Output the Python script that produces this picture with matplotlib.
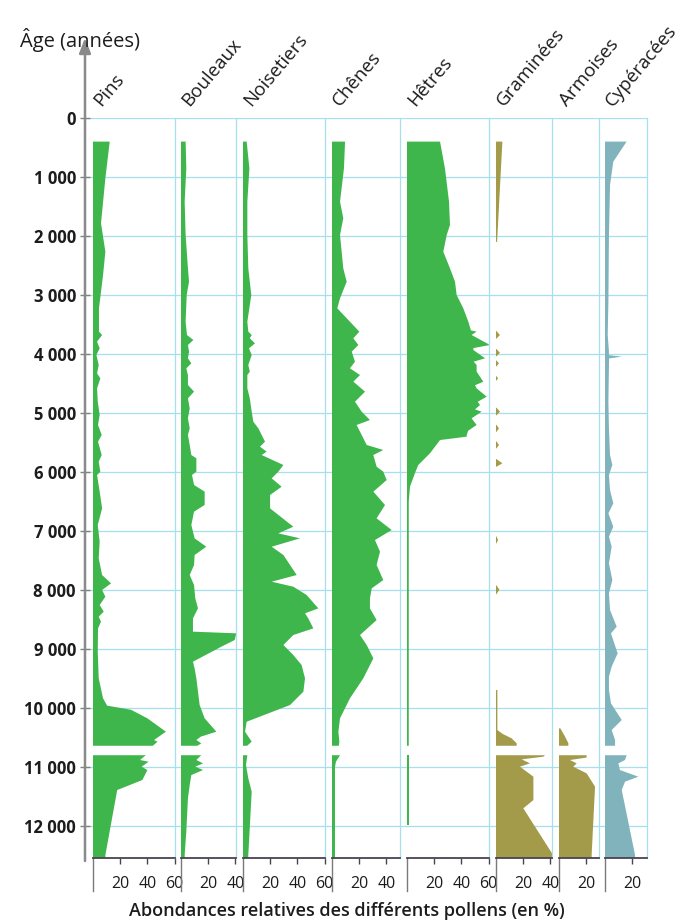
import numpy as np
import matplotlib
matplotlib.use('Agg')
import matplotlib.pyplot as plt

nan = np.nan

# ages (years) and relative abundance (%)
# nan marks the break in the core around 10 700 years
pins_age = [400, 1020, 1785, 2266, 2661, 3226, 3621, 3678, 3791, 3904, 4017, 4186,
            4328, 4412, 4582, 4808, 5034, 5203, 5373, 5486, 5712, 5825, 5994, 6051,
            6333, 6616, 6898, 7181, 7463, 7746, 7887, 8000, 8113, 8254, 8367, 8452,
            8537, 8650, 9045, 9497, 9836, 9960, 10030, 10175, 10401, 10542, 10571,
            10640, nan, 10800, 10881, 10910, 10994, 11051, 11220, 11390, 12492, 12542]
pins_pct = [12.3, 9.1, 5.9, 9.1, 7.4, 4.4, 4.4, 6.7, 3.0, 4.9, 2.5, 4.2,
            3.0, 5.4, 3.0, 3.5, 4.9, 3.7, 6.4, 3.7, 6.4, 4.2, 5.4, 3.0,
            4.9, 6.7, 3.5, 4.9, 4.2, 6.7, 13.3, 6.7, 9.1, 4.9, 7.9, 4.2,
            5.9, 3.7, 3.5, 4.2, 7.4, 10.4, 28.0, 40.0, 53.6, 44.9, 47.4,
            44.0, nan, 38.8, 34.6, 40.9, 35.8, 40.0, 36.3, 17.8, 9.1, 9.1]

bouleaux_age = [400, 853, 1418, 1983, 2548, 2774, 3000, 3452, 3678, 3763, 3847, 3960,
                4073, 4158, 4243, 4356, 4525, 4638, 4751, 4921, 5090, 5260, 5373, 5542,
                5712, 5768, 5994, 6051, 6220, 6333, 6559, 6672, 6898, 7124, 7266, 7407,
                7576, 7746, 7915, 8141, 8311, 8480, 8706, 8734, 8847, 8960, 9215, 9328,
                9497, 9723, 9949, 10175, 10401, 10486, 10542, 10599, 10640, nan,
                10800, 10881, 10938, 10994, 11051, 11136, 11305, 11531, 12096, 12492, 12542]
bouleaux_pct = [3.4, 3.9, 2.7, 3.4, 5.1, 5.9, 4.2, 3.4, 4.4, 9.1, 5.1, 5.9,
                5.1, 7.6, 3.9, 5.1, 5.1, 9.6, 5.1, 6.4, 5.1, 6.4, 5.1, 6.4,
                7.6, 11.3, 11.3, 8.1, 9.6, 17.4, 17.4, 9.6, 7.6, 10.0, 18.6, 10.0,
                9.6, 6.4, 9.6, 10.5, 12.5, 8.8, 8.8, 40.7, 39.5, 29.7, 8.8, 10.0,
                11.3, 12.5, 13.7, 17.4, 26.0, 14.5, 11.3, 14.9, 12.0, nan,
                14.9, 11.3, 16.2, 10.5, 16.2, 7.6, 6.4, 5.1, 3.9, 2.7, 2.7]

noisetiers_age = [400, 853, 1418, 1983, 2548, 3000, 3452, 3621, 3678, 3734, 3819, 3904,
                  4017, 4186, 4299, 4356, 4582, 4751, 4977, 5147, 5260, 5486, 5571, 5655,
                  5712, 5881, 5994, 6107, 6249, 6390, 6616, 6927, 7040, 7124, 7266, 7407,
                  7576, 7746, 7859, 7944, 8085, 8311, 8395, 8480, 8650, 8763, 8932, 9102,
                  9271, 9497, 9723, 9949, 10232, 10401, 10571, 10640, nan,
                  10800, 10966, 11192, 11418, 12492, 12542]
noisetiers_pct = [2.7, 4.7, 3.2, 3.2, 3.9, 6.1, 3.2, 3.9, 6.4, 5.0, 8.8, 4.4,
                  6.4, 3.9, 5.0, 3.2, 3.2, 5.0, 6.4, 7.6, 11.3, 16.2, 12.5, 17.4,
                  13.7, 29.7, 26.0, 21.1, 28.4, 19.9, 19.9, 37.0, 26.0, 41.9, 21.1, 29.7,
                  34.6, 39.5, 21.1, 37.0, 46.8, 55.4, 45.6, 48.0, 51.7, 37.0, 29.7, 37.0,
                  43.1, 45.6, 44.4, 34.6, 2.7, 1.5, 6.4, 3.0, nan,
                  3.2, 2.2, 3.9, 6.4, 3.9, 3.9]

chenes_age = [400, 853, 1418, 1700, 1983, 2548, 2774, 3056, 3226, 3452, 3621, 3734,
              3847, 3960, 4130, 4243, 4356, 4469, 4638, 4808, 4977, 5119, 5203, 5316,
              5542, 5627, 5712, 5910, 5994, 6136, 6333, 6559, 6785, 6983, 7153, 7350,
              7576, 7831, 7972, 8141, 8311, 8509, 8763, 8932, 9158, 9497, 9836, 10175,
              10401, 10571, 10640, nan, 10800, 10910, 11000, 12542]
chenes_pct = [9.6, 8.8, 5.9, 8.3, 5.9, 8.3, 10.8, 5.9, 3.9, 13.2, 20.1, 15.7,
              19.4, 14.5, 16.9, 13.2, 20.6, 15.7, 24.3, 16.9, 21.8, 27.9, 18.1, 20.6,
              25.5, 37.7, 30.4, 32.8, 37.7, 40.2, 30.4, 39.0, 32.8, 43.9, 31.6, 35.3,
              32.8, 37.7, 29.2, 27.9, 27.9, 32.8, 20.6, 25.5, 30.4, 23.0, 13.2, 5.9,
              4.7, 5.4, 5.0, nan, 5.9, 2.9, 2.2, 2.2]

hetres_age = [400, 853, 1418, 1814, 1983, 2266, 2548, 2774, 3000, 3226, 3452, 3600,
              3621, 3678, 3847, 3900, 3932, 4073, 4130, 4186, 4299, 4469, 4530, 4582,
              4723, 4810, 4864, 4940, 4977, 5090, 5203, 5300, 5373, 5401, 5458, 5683,
              5881, 6017, 6249, 6500, 10640, nan, 10800, 11990]
hetres_pct = [24.3, 27.9, 30.9, 31.6, 29.2, 26.7, 31.6, 35.3, 36.5, 41.4, 45.1, 47.0,
              51.2, 47.5, 61.0, 48.8, 48.8, 57.4, 49.0, 51.2, 51.2, 56.1, 50.0, 51.2,
              58.6, 52.0, 53.7, 50.0, 54.9, 47.5, 51.2, 45.0, 43.9, 43.9, 24.3, 16.9,
              8.3, 5.9, 2.2, 1.3, 1.3, nan, 1.3, 1.3]

graminees_age = [400, 2100, nan,
                 3610, 3678, 3740, nan, 3915, 3979, 4040, nan, 4110, 4158, 4210, nan,
                 4375, 4412, 4450, nan, 4910, 4977, 5040, nan, 5200, 5260, 5320, nan,
                 5480, 5542, 5600, nan, 5780, 5853, 5910, nan, 7090, 7152, 7210, nan,
                 7920, 7994, 8070, nan,
                 9695, 10373, 10440, 10514, 10599, 10640, nan,
                 10800, 10825, 10870, 10938, 10994, 11164, 11560, 11700, 12492, 12542]
graminees_pct = [4.7, 0.8, nan,
                 0.3, 2.9, 0.3, nan, 0.3, 2.9, 0.3, nan, 0.3, 2.2, 0.3, nan,
                 0.3, 1.5, 0.3, nan, 0.3, 2.9, 0.3, nan, 0.3, 2.2, 0.3, nan,
                 0.3, 2.2, 0.3, nan, 0.3, 4.7, 0.3, nan, 0.3, 1.5, 0.3, nan,
                 0.3, 2.5, 0.3, nan,
                 1.0, 1.0, 5.0, 11.5, 15.2, 15.2, nan,
                 36.0, 34.8, 18.9, 25.0, 17.6, 27.5, 27.5, 20.1, 42.0, 42.0]

armoises_age = [10345, 10486, 10599, 10640, nan,
                10800, 10840, 10881, 10938, 10994, 11107, 11333, 12492, 12542]
armoises_pct = [1.0, 4.5, 6.9, 6.9, nan,
                20.3, 20.3, 8.1, 13.0, 10.5, 20.3, 26.5, 24.0, 24.0]

cyperacees_age = [400, 740, 1135, 1983, 3113, 3678, 3960, 4020, 4045, 4075, 4808, 5260,
                  5712, 5881, 6051, 6305, 6531, 6701, 6927, 7096, 7266, 7548, 7831, 8057,
                  8339, 8622, 8735, 9074, 9300, 9469, 9695, 9921, 10203, 10373, 10542,
                  10640, nan, 10800, 10881, 10938, 11051, 11164, 11249, 11390, 12492, 12542]
cyperacees_pct = [15.9, 6.1, 3.7, 2.9, 2.5, 2.0, 2.9, 2.9, 12.3, 3.0, 2.5, 2.9,
                  3.7, 5.4, 2.9, 3.7, 6.1, 2.5, 6.1, 2.9, 4.9, 2.9, 5.4, 2.9,
                  3.7, 8.6, 4.4, 9.3, 4.9, 2.9, 2.9, 4.4, 12.3, 4.9, 7.4,
                  7.4, nan, 15.9, 14.7, 9.8, 11.0, 24.5, 14.7, 12.3, 22.1, 22.1]

age_ticks = list(range(0, 13000, 1000))
age_labels = ['0'] + [f'{a // 1000} 000' for a in age_ticks[1:]]

GREEN = '#3fb64c'
OLIVE = '#a39b4a'
TEAL = '#80b3bc'
GRID = '#a6dfee'
DARK = '#4a4350'
TXT = '#1c1c1c'

# (title, ages, values, colour, left edge in px, x max in %, ticks)
panels = [
    ('Pins', pins_age, pins_pct, GREEN, 93, 60, [20, 40, 60]),
    ('Bouleaux', bouleaux_age, bouleaux_pct, GREEN, 181, 40.5, [20, 40]),
    ('Noisetiers', noisetiers_age, noisetiers_pct, GREEN, 243, 60, [20, 40, 60]),
    ('Chênes', chenes_age, chenes_pct, GREEN, 332, 50, [20, 40]),
    ('Hêtres', hetres_age, hetres_pct, GREEN, 407, 60, [20, 40, 60]),
    ('Graminées', graminees_age, graminees_pct, OLIVE, 496, 41, [20, 40]),
    ('Armoises', armoises_age, armoises_pct, OLIVE, 559, 29.5, [20]),
    ('Cypéracées', cyperacees_age, cyperacees_pct, TEAL, 605, 31, [20]),
]

W, H = 690, 924
PX = 1.36          # pixels per percent
TOP, BOT = 118, 858
AGE_MAX = 12542

plt.rcParams['font.family'] = ['Open Sans', 'DejaVu Sans']

fig = plt.figure(figsize=(W / 100, H / 100), dpi=100)


def box(left, right):
    return [left / W, 1 - BOT / H, (right - left) / W, (BOT - TOP) / H]


# background: age axis and horizontal grid
bg = fig.add_axes(box(85, 647))
bg.set_ylim(AGE_MAX, 0)
bg.set_xlim(0, 1)
bg.set_xticks([])
bg.set_yticks(age_ticks)
bg.set_yticklabels(age_labels, fontsize=12, fontweight='bold', color=TXT)
bg.tick_params(axis='y', length=7, width=1, direction='inout', color='#808080', pad=3)
bg.grid(axis='y', color=GRID, lw=0.9)
for s in bg.spines.values():
    s.set_visible(False)
bg.annotate('', xy=(0, 1 + 80 / (BOT - TOP)), xytext=(0, -0.004),
            xycoords='axes fraction', annotation_clip=False,
            arrowprops=dict(arrowstyle='-|>,head_length=0.9,head_width=0.35',
                            color='#8a8a8a', lw=1.8, shrinkA=0, shrinkB=0))

for title, ages, vals, color, left, xmax, ticks in panels:
    ax = fig.add_axes(box(left, left + xmax * PX))
    ax.patch.set_alpha(0)
    ax.fill_betweenx(np.array(ages, float), 0, np.array(vals, float),
                     color=color, lw=0)
    ax.set_xlim(0, xmax)
    ax.set_ylim(AGE_MAX, 0)
    ax.set_yticks([])
    ax.set_xticks(ticks)
    ax.set_xticklabels([str(t) for t in ticks], fontsize=11.5, color=TXT)
    ax.tick_params(axis='x', length=4, width=1, color=DARK, pad=9)
    ax.spines['top'].set_visible(False)
    ax.spines['left'].set_visible(False)
    ax.spines['right'].set_color(GRID)
    ax.spines['right'].set_linewidth(0.9)
    ax.spines['bottom'].set_color(DARK)
    ax.spines['bottom'].set_linewidth(1.3)
    ax.plot([0, 0], [0, -0.045], transform=ax.transAxes, clip_on=False,
            color='#7a7a7a', lw=1)
    fig.text((left + 11) / W, 1 - 110 / H, title, rotation=50,
             rotation_mode='anchor', ha='left', va='bottom', fontsize=13.5, color=TXT)

fig.text(20 / W, 1 - 40 / H, 'Âge (années)', fontsize=14.5, color=TXT,
         ha='left', va='center')
fig.text(347 / W, 1 - 911 / H, 'Abondances relatives des différents pollens (en %)',
         fontsize=13, fontweight='semibold', color=TXT, ha='center', va='center')

fig.savefig('out.png', dpi=100)
